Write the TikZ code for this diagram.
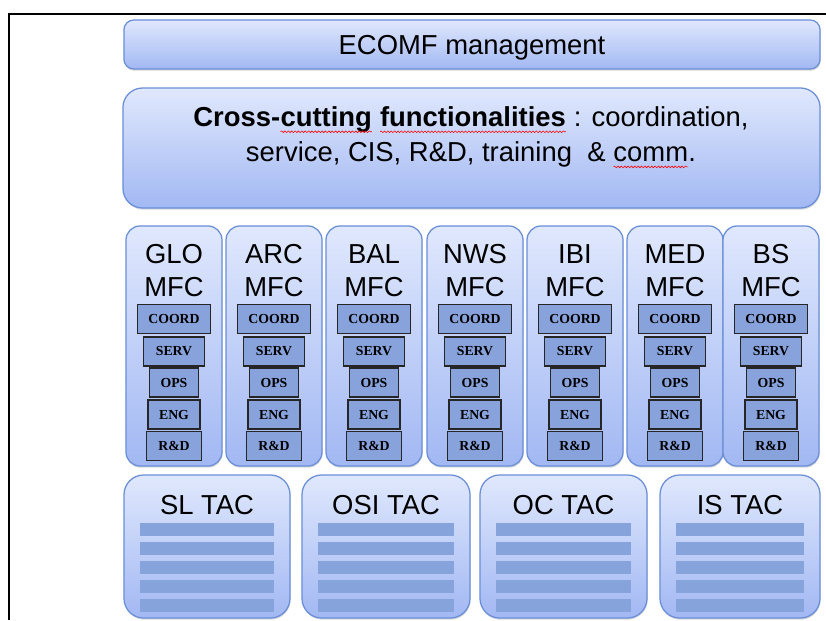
\documentclass[tikz,border=0pt]{standalone}
\usepackage{fontspec}
\setmainfont{Liberation Sans}
\newfontfamily\unitfont{Liberation Serif}
\usetikzlibrary{shadows,decorations.pathmorphing}

\definecolor{boxtop}{HTML}{E0E8FD}
\definecolor{boxbottom}{HTML}{A2B8F3}
\definecolor{boxedge}{HTML}{6A8FD8}
\definecolor{unitfill}{HTML}{88A2DC}
\definecolor{barfill}{HTML}{86A3DC}

% red spell-check wave under a word
\newcommand{\spellmark}[1]{\tikz[baseline=(word.base), x=1cm, y=1cm]{%
    \node[inner sep=0pt, outer sep=0pt] (word) {#1};
    \draw[red, line width=0.4pt, decorate, decoration={snake, amplitude=0.6pt, segment length=2.4pt}]
        ([yshift=-3.5pt]word.base west) -- ([yshift=-3.5pt]word.base east);}}

\begin{document}
\begin{tikzpicture}[x=0.025cm, y=-0.025cm,
    bluebox/.style={rectangle, draw=boxedge, line width=0.9pt, top color=boxtop, bottom color=boxbottom,
        drop shadow={shadow xshift=0.4pt, shadow yshift=-1.2pt, opacity=0.3}},
    mfccol/.style={bluebox, rounded corners=10pt, minimum width=2.4cm, minimum height=6cm},
    tacbox/.style={bluebox, rounded corners=14pt, minimum height=3.575cm},
    bigtext/.style={align=center, inner sep=0pt, font=\fontsize{19.5}{23.5}\selectfont},
    unitbox/.style={rectangle, draw=black!85, line width=0.9pt, fill=unitfill, inner sep=0pt,
        minimum height=0.73cm, font=\unitfont\bfseries\fontsize{9.8}{12}\selectfont},
    tacbar/.style={rectangle, fill=barfill, inner sep=0pt, minimum height=0.325cm}]

    \useasboundingbox (0,0) rectangle (826,620);

    % Frame of the slide
    \draw[line width=1.4pt] (826,14) -- (9,14) -- (9,620);

    % Top two layers
    \node[bluebox, rounded corners=7pt, minimum width=17.4cm, minimum height=1.225cm] (ecomf) at (472,44.5) {};
    \node[bigtext, text depth=0pt] (ecomftext) at (ecomf) {ECOMF management};
    \node[bluebox, rounded corners=14pt, minimum width=17.425cm, minimum height=3cm] (cross) at (471.5,148) {};
    \node[bigtext, font=\fontsize{19.5}{25}\selectfont] (crosstext) at (471,137.5)
        {\textbf{Cross-\spellmark{cutting} \spellmark{functionalities}} : coordination,\\
         service, CIS, R\&D, training \ \& \spellmark{comm}.};

    % One column per MFC
    \foreach \mfc/\xc in {GLO/174, ARC/274, BAL/374, NWS/475, IBI/575, MED/675, BS/771} {
        \node[mfccol] (\mfc) at (\xc,346) {};
        \node[bigtext] (\mfc title) at (\xc,270.5) {\mfc\\MFC};
        \node[unitbox, minimum width=1.825cm] (\mfc coord) at (\xc,319) {COORD};
        \node[unitbox, minimum width=1.525cm] (\mfc serv) at (\xc,351.5) {SERV};
        \node[unitbox, minimum width=1.225cm] (\mfc ops) at (\xc,382.5) {OPS};
        \node[unitbox, minimum width=1.3cm] (\mfc eng) at (\xc,414.5) {ENG};
        \node[unitbox, minimum width=1.375cm] (\mfc rd) at (\xc,446) {R\&D};
    }

    % TAC boxes with their bars
    \foreach \tac/\xc/\w in {SL/207/4.15, OSI/386/4.2, OC/563.5/4.175, IS/740/4.0} {
        \node[tacbox, minimum width=\w cm] (\tac) at (\xc,546.5) {};
        \node[bigtext] (\tac title) at (\xc,505) {\tac{} TAC};
        \foreach \k/\yb in {1/529.5, 2/548.5, 3/567.5, 4/586.5, 5/605}
            \node[tacbar, minimum width=\w cm-0.8cm] (\tac bar\k) at (\xc,\yb) {};
    }
\end{tikzpicture}
\end{document}
